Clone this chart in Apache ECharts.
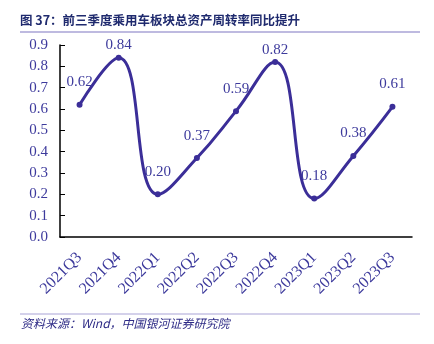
<!DOCTYPE html>
<html><head><meta charset="utf-8">
<script src="https://cdn.jsdelivr.net/npm/echarts@6/dist/echarts.min.js"></script>
<style>html,body{margin:0;padding:0;background:#fff}#c{width:434px;height:344px}</style>
</head><body><div id="c"></div>
<script>
var categories = ['2021Q3','2021Q4','2022Q1','2022Q2','2022Q3','2022Q4','2023Q1','2023Q2','2023Q3'];
var values = [0.62,0.84,0.20,0.37,0.59,0.82,0.18,0.38,0.61];
var yTicks = ['0.0','0.1','0.2','0.3','0.4','0.5','0.6','0.7','0.8','0.9'];
var titleText = '图 37：前三季度乘用车板块总资产周转率同比提升';
var sourceText = '资料来源：Wind，中国银河证券研究院';

var blue = '#3d3a9c';
var lineColor = '#3b2e98';
var serif = '"Liberation Serif","Times New Roman",serif';
var chart = echarts.init(document.getElementById('c'));
var data = values.map(function(v){
  var d = {value: v};
  if (v > 0.8) d.label = {distance: 2};
  return d;
});
chart.setOption({
  animation: false,
  graphic: [
    {type:'text', left:20, top:14, style:{text:titleText, font:'bold 12.5px "Noto Sans CJK SC", sans-serif', fill:'#1f2a6e'}},
    {type:'line', shape:{x1:20,y1:32,x2:420,y2:32}, style:{stroke:'#a9a3d6', lineWidth:1.5}},
    {type:'line', shape:{x1:20,y1:314,x2:420,y2:314}, style:{stroke:'#a9a3d6', lineWidth:1}},
    {type:'text', left:21, top:317, style:{text:sourceText, font:'italic 12px "Noto Sans CJK SC", serif', fill:'#2e2b86'}}
  ],
  grid: {left:60, right:22, top:45, bottom:107},
  xAxis: {
    type:'category', data:categories, boundaryGap:true,
    axisLine:{lineStyle:{color:'#000', width:1.5}},
    axisTick:{inside:true, length:5, lineStyle:{color:'#000'}},
    axisLabel:{rotate:45, color:blue, fontFamily:serif, fontSize:16, margin:18, interval:0}
  },
  yAxis: {
    type:'value', min:0, max:0.9, interval:0.1,
    axisLine:{show:true, lineStyle:{color:'#000', width:1.5}},
    axisTick:{show:true, inside:true, length:5, lineStyle:{color:'#000'}},
    splitLine:{show:false},
    axisLabel:{color:blue, fontFamily:serif, fontSize:15, margin:12,
      formatter:function(v, i){ return yTicks[i] !== undefined ? yTicks[i] : v.toFixed(1); }}
  },
  series: [{
    type:'line', data:data, smooth:0.45,
    symbol:'circle', symbolSize:6,
    lineStyle:{color:lineColor, width:3},
    itemStyle:{color:lineColor},
    label:{show:true, position:'top', distance:12, color:blue, fontFamily:serif, fontSize:15,
      formatter:function(p){ return p.value.toFixed(2); }}
  }]
});
</script></body></html>
